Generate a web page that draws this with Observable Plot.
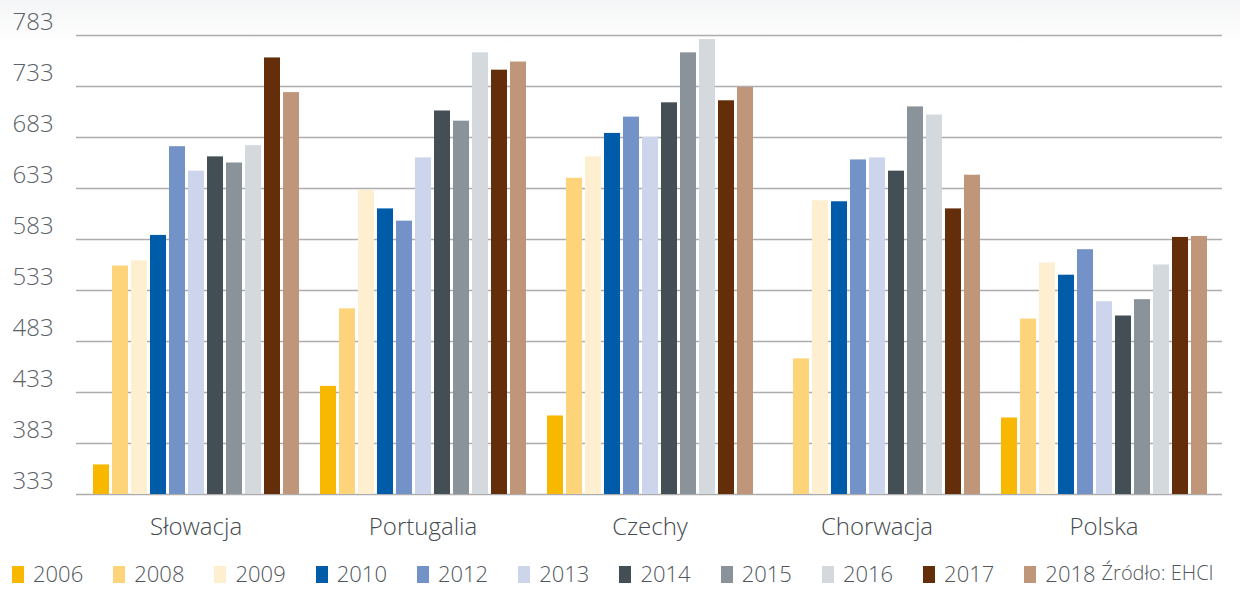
<!DOCTYPE html>
<html>
<head>
<meta charset="utf-8">
<script src="https://cdn.jsdelivr.net/npm/d3@7"></script>
<script src="https://cdn.jsdelivr.net/npm/@observablehq/plot@0.6"></script>
<style>
  html, body { margin: 0; padding: 0; }
  body {
    width: 1240px; height: 589px; overflow: hidden; position: relative;
    background: linear-gradient(#f4f5f6 0px, #ffffff 45px);
    font-family: "Open Sans", sans-serif; font-weight: 300;
  }
  #grid, #chart { position: absolute; left: 0; top: 0; }
  #legend {
    position: absolute; left: 12px; top: 562px;
    display: flex; align-items: center; white-space: nowrap;
    font-size: 22px; color: #50565c; line-height: 22px;
  }
  .item { display: inline-flex; align-items: center; margin-right: 30px; }
  .sw { display: inline-block; width: 12px; height: 17px; margin-right: 9px; margin-top: 3px; }
  .src { font-size: 20px; margin-left: -24px; color: #50565c; }
</style>
</head>
<body>
<div id="grid"></div>
<div id="chart"></div>
<div id="legend"></div>
<script>
const categories = ["Słowacja", "Portugalia", "Czechy", "Chorwacja", "Polska"];
const years = ["2006", "2008", "2009", "2010", "2012", "2013", "2014", "2015", "2016", "2017", "2018"];
const slowacja   = [362, 557, 562, 587, 674, 650, 664, 658, 675, 761, 727];
const portugalia = [439, 515, 631, 613, 601, 663, 709, 699, 766, 749, 757];
const czechy     = [410, 643, 664, 687, 703, 683, 717, 766, 779, 719, 732];
const chorwacja  = [null, 466, 621, 620, 661, 663, 650, 713, 705, 613, 646];
const polska     = [408, 505, 560, 548, 573, 522, 508, 524, 558, 585, 586];
const yTicks = [333, 383, 433, 483, 533, 583, 633, 683, 733, 783];
const colors = ["#f8b800", "#fed47a", "#feefd0", "#005ca9", "#7393c8", "#cdd5ec",
                "#434e55", "#8a9399", "#d4d9dd", "#642e0a", "#c0967a"];
const source = "Źródło: EHCI";

const series = [slowacja, portugalia, czechy, chorwacja, polska];
const data = [];
categories.forEach((c, i) => {
  years.forEach((y, j) => {
    const v = series[i][j];
    if (v != null) data.push({country: c, year: y, value: v});
  });
});

const common = {
  width: 1240,
  height: 555,
  marginLeft: 76,
  marginRight: 18,
  marginTop: 35,
  marginBottom: 61,
  style: {fontFamily: "'Open Sans', sans-serif", fontWeight: 300, fontSize: "24px", color: "#464b50", background: "transparent", overflow: "visible"},
  y: {domain: [yTicks[0], yTicks[yTicks.length - 1]], axis: null}
};

// Layer 1: gridlines and y labels spanning the full frame
const grid = Plot.plot({
  ...common,
  marks: [
    Plot.ruleY(yTicks, {y: d => d, stroke: "#adadad", strokeWidth: 1.6}),
    Plot.text(yTicks, {y: d => d, text: d => String(d), frameAnchor: "left", textAnchor: "start", dx: -64, dy: -13, fill: "#5b6268", fontSize: 24})
  ]
});
document.getElementById("grid").appendChild(grid);

// Layer 2: grouped bars
const chart = Plot.plot({
  ...common,
  fx: {domain: categories, paddingInner: 0.08, paddingOuter: 0.064, label: null, tickSize: 0, tickPadding: 23},
  x: {domain: years, paddingInner: 0.16, paddingOuter: 0, axis: null},
  color: {domain: years, range: colors},
  marks: [
    Plot.barY(data, {fx: "country", x: "year", y1: yTicks[0], y2: "value", fill: "year"})
  ]
});
document.getElementById("chart").appendChild(chart);

const legend = document.getElementById("legend");
years.forEach((y, i) => {
  const it = document.createElement("span");
  it.className = "item";
  const sw = document.createElement("span");
  sw.className = "sw";
  sw.style.background = colors[i];
  it.appendChild(sw);
  it.appendChild(document.createTextNode(y));
  legend.appendChild(it);
});
const src = document.createElement("span");
src.className = "src";
src.textContent = source;
legend.appendChild(src);
</script>
</body>
</html>
